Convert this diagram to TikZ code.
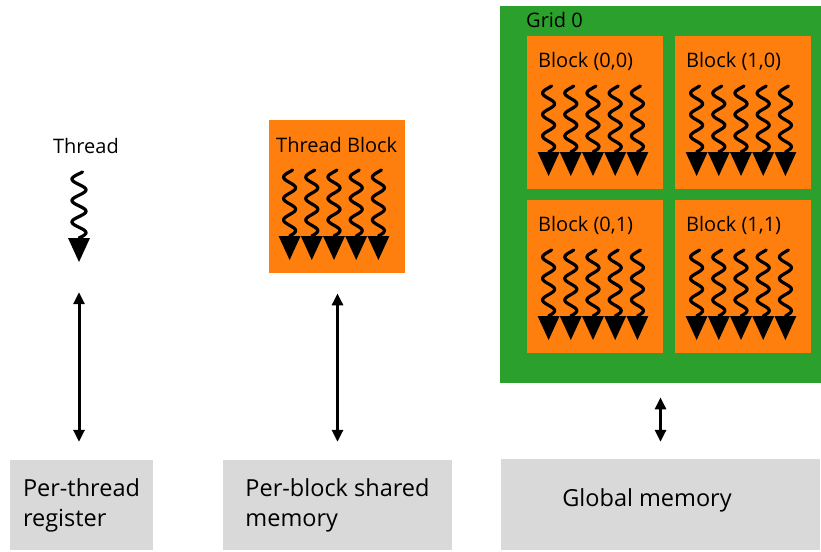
\documentclass[tikz,border=0pt]{standalone}
\usepackage{fontspec}
\setmainfont{Open Sans}
\usetikzlibrary{arrows.meta}
\definecolor{gridgreen}{HTML}{2CA02C}
\definecolor{blockorange}{HTML}{FF7F0E}
\definecolor{memgray}{HTML}{D9D9D9}

\tikzset{
  % one thread: a wavy line ending in a filled triangle; origin at the top of the wave,
  % the argument is the amplitude of the wave
  pics/threadsq/.style={code={
    \draw[line width=3.2pt, line cap=round]
      plot[domain=0:1, samples=90, smooth] ({#1*sin(150+1110*\x)}, {66*\x});
    \fill (-11,66) -- (11,66) -- (0,90) -- cycle;
  }},
  pics/threadsq/.default=6,
  % five threads side by side, centred on the origin
  pics/threadrow/.style={code={
    \foreach \k in {-2,...,2} { \pic at (\k*22.2,0) {threadsq}; }
  }},
  blockbox/.style={fill=blockorange, minimum width=136pt, minimum height=153pt,
    inner sep=0pt, anchor=north west},
  lbl/.style={font=\fontsize{20}{24}\selectfont, inner sep=0pt},
  membox/.style={fill=memgray, inner sep=0pt, align=left,
    font=\fontsize{23.5}{30}\selectfont},
  dbl/.style={{Triangle[width=11pt,length=12pt]}-{Triangle[width=11pt,length=12pt]},
    line width=3pt},
}

\begin{document}
\begin{tikzpicture}[x=1pt, y=-1pt]
\useasboundingbox (0,0) rectangle (821,551);

% single thread
\node[lbl] (thrlbl) at (86,146) {Thread};
\pic at (79,172) {threadsq=7};
\node[inner sep=0pt, minimum width=22pt, minimum height=90pt] (thr) at (79,217) {};

% thread block
\node[blockbox] (tb) at (269,120) {};
\node[lbl, anchor=west] (tblbl) at (276,145) {Thread Block};
\pic at (334,170) {threadrow};

% grid of blocks
\node[fill=gridgreen, minimum width=321pt, minimum height=377pt, inner sep=0pt,
  anchor=north west] (grid) at (500,6) {};
\node[lbl, anchor=west] (gridlbl) at (526,20) {Grid 0};
\foreach \bx/\by/\nm in {0/0/b00, 1/0/b10, 0/1/b01, 1/1/b11} {
  \pgfmathsetmacro{\L}{527+148*\bx}
  \pgfmathsetmacro{\T}{36+164*\by}
  \node[blockbox] (\nm) at (\L,\T) {};
  \node[lbl, anchor=west] (\nm lbl) at (\L+11,\T+25) {Block (\bx,\by)};
  \pic at (\L+66,\T+50) {threadrow};
}

% memory spaces
\node[membox, minimum width=143pt, minimum height=90pt] (reg) at (81.5,505)
  {Per-thread\\register};
\node[membox, minimum width=229pt, minimum height=90pt] (shm) at (337.5,505)
  {Per-block shared\\memory};
\node[membox, minimum width=319pt, minimum height=91pt] (glob) at (660.5,504.5) {};
\node[membox] (globlbl) at (647,500) {Global memory};

% access paths
\draw[dbl, shorten <=30pt, shorten >=18pt] (thr.south) -- (thr.south |- reg.north);
\draw[dbl, shorten <=20pt, shorten >=18pt] (tb.south -| shm.north) -- (shm.north);
\draw[dbl, shorten <=14pt, shorten >=17pt] (grid.south -| glob.north) -- (glob.north);
\end{tikzpicture}
\end{document}
